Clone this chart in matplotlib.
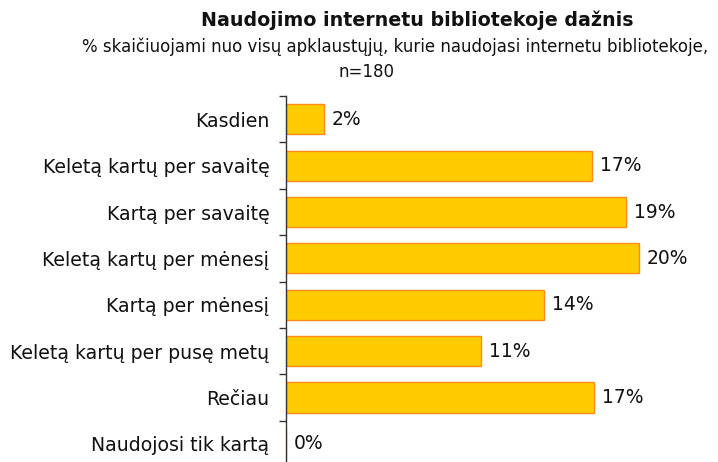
import numpy as np
import matplotlib.pyplot as plt
from matplotlib.ticker import FixedLocator

categories = ["Kasdien", "Keletą kartų per savaitę", "Kartą per savaitę",
              "Keletą kartų per mėnesį", "Kartą per mėnesį",
              "Keletą kartų per pusę metų", "Rečiau", "Naudojosi tik kartą"]
values = [2.1, 17.1, 19.0, 19.7, 14.4, 10.9, 17.2, 0.0]
value_labels = ["2%", "17%", "19%", "20%", "14%", "11%", "17%", "0%"]

title = "Naudojimo internetu bibliotekoje dažnis"
subtitle1 = "% skaičiuojami nuo visų apklaustųjų, kurie naudojasi internetu bibliotekoje,"
subtitle2 = "n=180"

plt.rcParams['font.family'] = ['DejaVu Sans']

fig = plt.figure(figsize=(7.18, 4.62), dpi=100)
ax = fig.add_axes([286 / 718, -0.011, 394 / 718, 0.803])

y = np.arange(len(categories))
bars = ax.barh(y, values, height=0.65, color="#FFCC00", edgecolor="#FF8C1A", linewidth=1)
ax.bar_label(bars, labels=value_labels, padding=5.5, fontsize=13.5, color="#111111")

ax.set_ylim(len(categories) - 0.5, -0.5)
ax.set_xlim(0, 22)
ax.set_yticks(y)
ax.set_yticklabels(categories, fontsize=13.6, color="#111111")
ax.yaxis.set_minor_locator(FixedLocator(np.arange(-0.5, len(categories), 1)))
ax.tick_params(axis='y', which='major', length=0, pad=12)
ax.tick_params(axis='y', which='minor', length=5, width=1, color="#333333", direction='out')
ax.set_xticks([])
for s in ["top", "right", "bottom"]:
    ax.spines[s].set_visible(False)
ax.spines["left"].set_color("#333333")
ax.spines["left"].set_linewidth(1)

fig.text(417 / 718, 1 - 20 / 462, title, ha="center", va="center",
         fontsize=13.7, fontweight="bold", color="#111111")
fig.text(395 / 718, 1 - 47 / 462, subtitle1, ha="center", va="center",
         fontsize=12, color="#111111")
fig.text(366 / 718, 1 - 72 / 462, subtitle2, ha="center", va="center",
         fontsize=12, color="#111111")

plt.savefig("out.png", dpi=100)
